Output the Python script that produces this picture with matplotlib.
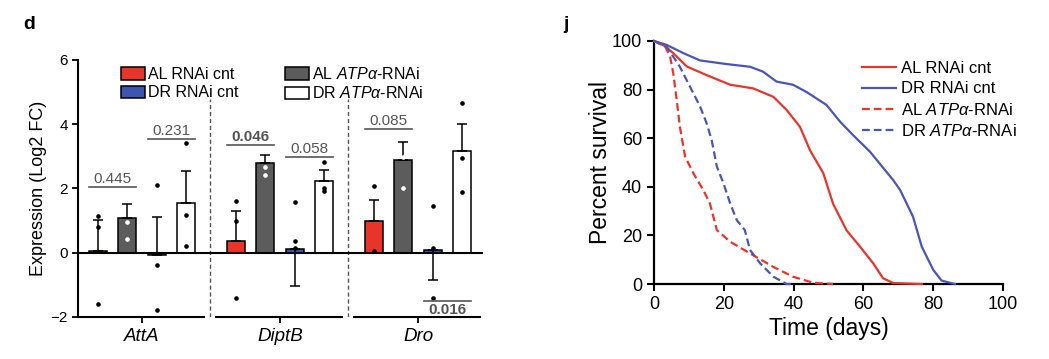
import numpy as np
from matplotlib import pyplot as plt
from matplotlib.patches import Patch

plt.rcParams['font.family'] = ['Liberation Sans', 'DejaVu Sans']
plt.rcParams['mathtext.fontset'] = 'custom'
plt.rcParams['mathtext.rm'] = 'Liberation Sans'
plt.rcParams['mathtext.it'] = 'Liberation Sans:italic'

# ---- panel d data ----
genes = ["AttA", "DiptB", "Dro"]
conds = ["AL RNAi cnt", "DR RNAi cnt", r"AL $\mathit{ATP\alpha}$-RNAi", r"DR $\mathit{ATP\alpha}$-RNAi"]
# bar order in each group: AL cnt, AL ATPa, DR cnt, DR ATPa
bar_colors = ["#e8352a", "#5c5c5c", "#3d55b0", "white"]
means = [[0.06, 1.07, -0.08, 1.56],
         [0.36, 2.78, 0.12, 2.23],
         [1.00, 2.90, 0.10, 3.16]]
errs = [[0.95, 0.46, 1.20, 0.98],
        [0.94, 0.27, -1.17, 0.34],
        [0.64, 0.55, -0.94, 0.84]]
dots = [[[1.15, 0.80, -1.60], [1.90, 0.97, 0.43], [2.10, -0.37, -1.78], [3.42, 1.17, 0.22]],
        [[1.60, 1.00, -1.42], [3.25, 2.43, 2.66], [1.58, 0.37, 0.15], [2.82, 2.02, 1.92]],
        [[2.07, 0.06], [3.69, 2.99, 2.02], [1.46, 0.15, -1.41], [4.65, 2.95, 1.89]]]
# p-values: gene, first bar, second bar, height, label, bold
pvals = [(0, 0, 1, 2.05, "0.445", False),
         (0, 2, 3, 3.55, "0.231", False),
         (1, 0, 1, 3.34, "0.046", True),
         (1, 2, 3, 2.98, "0.058", False),
         (2, 0, 1, 3.85, "0.085", False),
         (2, 2, 3, -1.50, "0.016", True)]

# ---- panel j data (Kaplan-Meier curves) ----
al_cnt_t = [0, 3, 5.5, 9.4, 15, 21.8, 28.4, 34.2, 38, 41.8, 44.7, 48.5, 51.3, 55.2, 59, 62.8, 65.6, 68.5, 76.7]
al_cnt_s = [100, 98, 95, 89.5, 86, 82, 80.5, 77, 71.6, 64.7, 55, 45.6, 33, 22, 15.4, 8.5, 2.4, 0.4, 0]
dr_cnt_t = [0, 3.6, 8.4, 13.2, 20.8, 27.5, 31.2, 35.1, 39.8, 43.7, 49.4, 53.3, 57, 61.9, 68.5, 70.5, 74.2, 76.7, 80, 82.4, 86.2]
dr_cnt_s = [100, 98.4, 95, 92, 90.5, 89.4, 87.4, 83.3, 82, 79, 73.7, 66.8, 61.3, 54.4, 42.8, 38.7, 27.7, 15.4, 5.8, 1.4, 0]
al_atp_t = [0, 3.2, 4.6, 5.5, 6.5, 7.4, 8.9, 11.3, 14.1, 16, 18, 21.8, 27.5, 34.1, 39.8, 45.6, 51.3]
al_atp_s = [100, 97.7, 93.6, 86.7, 75.7, 64.7, 52.4, 45.5, 38.7, 33.2, 22.2, 17.4, 12.6, 7.1, 3, 0.5, 0]
dr_atp_t = [0, 3.6, 7.4, 10.3, 13.2, 15.1, 16.5, 18, 19.9, 21.8, 23.7, 26, 27.5, 30.4, 34.2, 38, 39.8]
dr_atp_s = [100, 97.7, 89.4, 81.2, 73, 66, 59.3, 48.3, 41.4, 33.2, 26.3, 22.2, 14, 8.5, 3, 0, 0]

fig = plt.figure(figsize=(10.49, 3.59), dpi=100)

# ================= panel d =================
ax = fig.add_axes([0.0744, 0.117, 0.386, 0.716])
gap = 4.68
offs = [-1.5, -0.5, 0.5, 1.5]
for g in range(3):
    c = g * gap
    for j in range(4):
        x = c + offs[j]
        ax.bar(x, means[g][j], width=0.6, color=bar_colors[j], edgecolor="black", linewidth=1.1, zorder=2)
        e = errs[g][j]
        yerr = [[0], [e]] if e > 0 else [[-e], [0]]
        ax.errorbar(x, means[g][j], yerr=yerr, fmt="none", ecolor="black", elinewidth=1.1, capsize=3.5,
                    capthick=1.1, zorder=3)
        dcol = "white" if j == 1 else "black"
        ax.plot([x] * len(dots[g][j]), dots[g][j], "o", color=dcol, markersize=2.3, zorder=4, clip_on=False)
    # bottom axis segment per gene
    ax.plot([c - 2.17, c + 2.1], [-2, -2], color="black", linewidth=1.5, clip_on=False, zorder=5)
    if g < 2:
        ax.plot([c + 2.3, c + 2.3], [-2, 4.77], color="#555555", linestyle=(0, (3, 2)), linewidth=1.0, zorder=1)

for g, a, b, y, lab, bold in pvals:
    c = g * gap
    x0, x1 = c + offs[a] - 0.3, c + offs[b] + 0.3
    ax.plot([x0, x1], [y, y], color="#555555", linewidth=1.2, zorder=4)
    if y > 0:
        ax.text((x0 + x1) / 2, y + 0.03, lab, ha="center", va="bottom", fontsize=11, color="#555555",
                fontweight="bold" if bold else "normal")
    else:
        ax.text((x0 + x1) / 2, y - 0.05, lab, ha="center", va="top", fontsize=11, color="#555555",
                fontweight="bold" if bold else "normal")

ax.axhline(0, color="black", linewidth=1.5, zorder=3)
ax.set_xlim(-2.17, 2 * gap + 2.2)
ax.set_ylim(-2, 6)
ax.set_yticks([-2, 0, 2, 4, 6])
ax.set_xticks([0, gap, 2 * gap])
ax.set_xticklabels(genes, fontstyle="italic", fontsize=13.5)
ax.tick_params(axis="y", labelsize=11, width=1.3, length=4)
ax.tick_params(axis="x", width=1.3, length=4, pad=4)
for s in ["top", "right", "bottom"]:
    ax.spines[s].set_visible(False)
ax.spines["left"].set_linewidth(1.5)
ax.set_ylabel("Expression (Log2 FC)", fontsize=13, labelpad=2)

handles = [Patch(facecolor=bar_colors[k], edgecolor="black", linewidth=1.1) for k in [0, 2, 1, 3]]
fig.legend(handles, [conds[0], conds[1], conds[2], conds[3]], ncol=2, loc="upper left",
           bbox_to_anchor=(0.108, 0.838), frameon=False, fontsize=11.5, handlelength=1.5,
           handleheight=0.8, handletextpad=0.2, columnspacing=2.9, labelspacing=0.2, borderpad=0)

fig.text(0.022, 0.955, "d", fontsize=14, fontweight="bold", va="top")

# ================= panel j =================
bx = fig.add_axes([0.6235, 0.2089, 0.3327, 0.6769])
red = "#e8352a"
blue = "#4a55b8"
bx.plot(al_cnt_t, al_cnt_s, color=red, linewidth=1.6, label="AL RNAi cnt", clip_on=False, zorder=3)
bx.plot(dr_cnt_t, dr_cnt_s, color=blue, linewidth=1.6, label="DR RNAi cnt", clip_on=False, zorder=3)
bx.plot(al_atp_t, al_atp_s, color=red, linewidth=1.6, linestyle=(0, (3.5, 1.8)),
        label=r"AL $\mathit{ATP\alpha}$-RNAi", clip_on=False, zorder=3)
bx.plot(dr_atp_t, dr_atp_s, color=blue, linewidth=1.6, linestyle=(0, (3.5, 1.8)),
        label=r"DR $\mathit{ATP\alpha}$-RNAi", clip_on=False, zorder=3)
bx.set_xlim(0, 100)
bx.set_ylim(0, 100)
bx.set_xticks(np.arange(0, 101, 20))
bx.set_yticks(np.arange(0, 101, 20))
bx.tick_params(labelsize=13, width=1.5, length=5)
for s in ["top", "right"]:
    bx.spines[s].set_visible(False)
bx.spines["left"].set_linewidth(1.6)
bx.spines["bottom"].set_linewidth(1.6)
bx.set_xlabel("Time (days)", fontsize=16.5, labelpad=3)
bx.set_ylabel("Percent survival", fontsize=16.5, labelpad=0)
fig.legend(*bx.get_legend_handles_labels(), loc="upper left", bbox_to_anchor=(0.814, 0.853),
           frameon=False, fontsize=12, handlelength=2.0, handletextpad=0.3, labelspacing=0.32, borderpad=0)
fig.text(0.537, 0.955, "j", fontsize=14, fontweight="bold", va="top")

fig.savefig("out.png", dpi=100)
